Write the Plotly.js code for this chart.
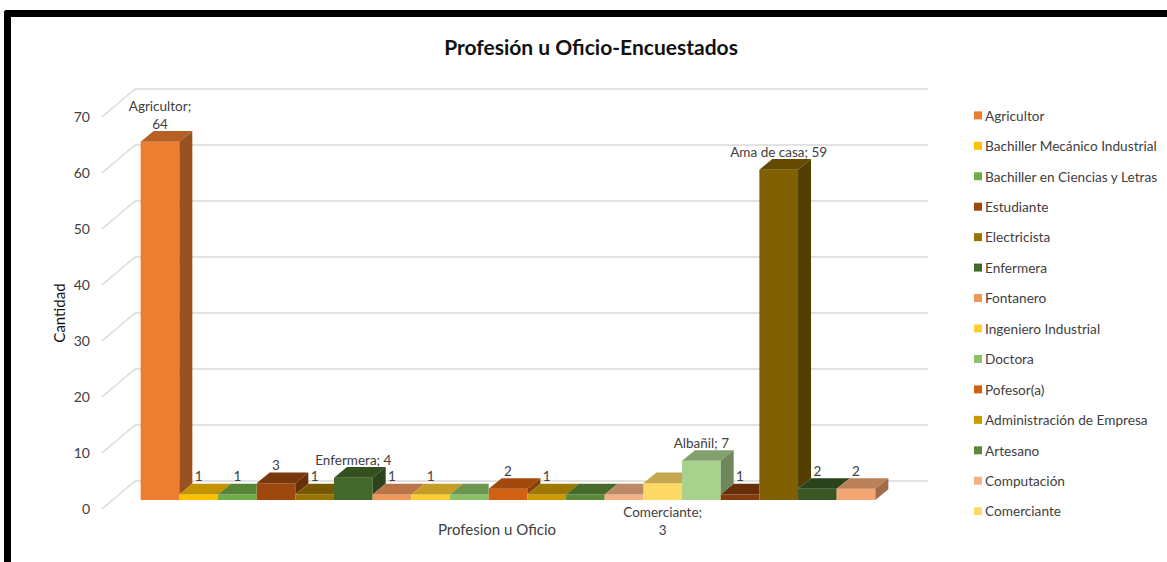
<!DOCTYPE html>
<html>
<head>
<meta charset="utf-8">
<script src="https://cdn.plot.ly/plotly-3.0.1.min.js"></script>
<style>
html,body{margin:0;padding:0;background:#fff;overflow:hidden}
#frame{position:absolute;left:4px;top:10px;width:1163px;height:552px;box-sizing:border-box;border-left:7px solid #000;border-top:7px solid #000;border-top-left-radius:3px}
#chart{position:absolute;left:0;top:0;width:1167px;height:562px}
</style>
</head>
<body>
<div id="frame"></div>
<div id="chart"></div>
<script>
// Data
const categories = ["Agricultor","Bachiller Mecánico Industrial","Bachiller en Ciencias y Letras","Estudiante","Electricista","Enfermera","Fontanero","Ingeniero Industrial","Doctora","Pofesor(a)","Administración de Empresa","Artesano","Computación","Comerciante","Albañil","","Ama de casa","",""];
const values = [64,1,1,3,1,4,1,1,1,2,1,1,1,3,7,1,59,2,2];
const colors = ["#ED7D31","#FFC000","#70AD47","#9E480E","#997300","#43682B","#F1975A","#FFCD33","#8CC168","#D26012","#CC9A00","#5A8A39","#F4B183","#FFD966","#A9D18E","#843C0C","#806000","#385723","#F4A672"];
const dataLabels = ["Agricultor;<br>64","1","1","3","1","Enfermera; 4","1","1","","2","1","","","Comerciante;<br>3","Albañil; 7","1","Ama de casa; 59","2","2"];
const labelsBelow = ["Comerciante"];
const legendCount = 14;
const yTicks = [0,10,20,30,40,50,60,70];

// Oblique projection constants (category units / value units)
const xRange = [-0.5, 19.93], yRange = [0, 70];
const floorOffset = 1.6, barDepthX = 0.336, barDepthY = 1.91;
const wallDepthX = 0.853, wallDepthY = 5, gridEndX = 20.86;
const labelLift = -0.2, belowDrop = 1.25;

function shade(hex, k){
  const n = parseInt(hex.slice(1),16);
  const c = [n>>16&255, n>>8&255, n&255].map(v=>Math.round(v*k));
  return `rgb(${c[0]},${c[1]},${c[2]})`;
}
const px = x => (x-xRange[0])/(xRange[1]-xRange[0]);
const py = y => (y-yRange[0])/(yRange[1]-yRange[0]);

const traces = [];
// front faces
categories.forEach((name,i)=>{
  traces.push({type:'bar',name:name||' ',x:[i+1],y:[values[i]],base:[floorOffset],width:1,
    marker:{color:colors[i],line:{width:0}},
    legendgroup:'g'+i,showlegend:i<legendCount,hoverinfo:'skip'});
});
// visible depth faces
function poly(xs,ys,col){
  traces.push({type:'scatter',mode:'lines',x:xs.concat(xs[0]),y:ys.concat(ys[0]),fill:'toself',fillcolor:col,
    line:{width:0,color:col},showlegend:false,hoverinfo:'skip'});
}
values.forEach((v,i)=>{
  const L=i+0.5,R=i+1.5,T=floorOffset+v,next=i+1<values.length?values[i+1]:0;
  const Nb=floorOffset+Math.min(next,v);
  if(next>v){
    poly([L,L+barDepthX,R,R],[T,T+barDepthY,T+barDepthY,T],shade(colors[i],0.77));
  }else{
    poly([L,L+barDepthX,R+barDepthX,R],[T,T+barDepthY,T+barDepthY,T],shade(colors[i],0.77));
    if(next<v||i===values.length-1)
      poly([R,R+barDepthX,R+barDepthX,R],[T,T+barDepthY,Nb+barDepthY,Nb],shade(colors[i],0.65));
  }
});
// data labels
const isBelow = categories.map(c=>labelsBelow.includes(c));
traces.push({type:'scatter',mode:'text',cliponaxis:false,showlegend:false,hoverinfo:'skip',
  x:categories.map((c,i)=>i+1),
  y:values.map((v,i)=>isBelow[i]?floorOffset-belowDrop:floorOffset+v+barDepthY+labelLift),
  text:dataLabels,
  textposition:isBelow.map(b=>b?'bottom center':'top center'),
  textfont:{family:'Lato, sans-serif',size:13.5,color:'#404040'}});

// gridlines on back and side walls
const backLeft = xRange[0]+wallDepthX;
const gridStyle = {color:'#D9D9D9',width:1.5};
const shapes = [];
yTicks.forEach(t=>{
  shapes.push({type:'line',layer:'below',xref:'paper',yref:'paper',x0:px(xRange[0]),y0:py(t),x1:px(backLeft),y1:py(t+wallDepthY),line:gridStyle});
  shapes.push({type:'line',layer:'below',xref:'paper',yref:'paper',x0:px(backLeft),y0:py(t+wallDepthY),x1:px(gridEndX),y1:py(t+wallDepthY),line:gridStyle});
});

const layout = {
  width:1167,height:562,
  margin:{l:102,r:275,t:117,b:53,pad:0},
  paper_bgcolor:'rgba(0,0,0,0)',plot_bgcolor:'rgba(0,0,0,0)',
  barmode:'overlay',
  font:{family:'Lato, sans-serif',color:'#404040',size:13.5},
  title:{text:'<b>Profesión u Oficio-Encuestados</b>',xref:'container',yref:'container',x:591/1167,xanchor:'center',y:1-48/562,yanchor:'middle',
    font:{family:'Lato, sans-serif',size:21,color:'#111'}},
  xaxis:{range:xRange,showgrid:false,zeroline:false,showline:false,ticks:'',showticklabels:false,
    title:{text:'Profesion u Oficio',standoff:15,font:{size:15,color:'#404040'}}},
  yaxis:{range:yRange,tickvals:yTicks,showgrid:false,zeroline:false,showline:false,ticks:'',ticklabelstandoff:11,
    tickfont:{size:14,color:'#404040'},
    title:{text:'Cantidad',standoff:4,font:{size:15,color:'#111'}}},
  legend:{xref:'container',yref:'container',x:945/1167,xanchor:'left',y:1-100/562,yanchor:'top',tracegroupgap:9.7,maxheight:460,
    entrywidth:157,entrywidthmode:'pixels',
    font:{family:'Lato, sans-serif',size:13.65,color:'#404040'},bgcolor:'rgba(0,0,0,0)'},
  shapes:shapes,
  showlegend:true
};
Plotly.newPlot('chart',traces,layout,{displayModeBar:false,staticPlot:true}).then(gd=>{
  // small legend swatches placed right next to their text
  gd.querySelectorAll('.legend .legendpoints path').forEach(p=>{
    p.setAttribute('d','M4,4H-4V-4H4Z');
    p.setAttribute('transform','translate(33,0)');
  });
});
</script>
</body>
</html>
